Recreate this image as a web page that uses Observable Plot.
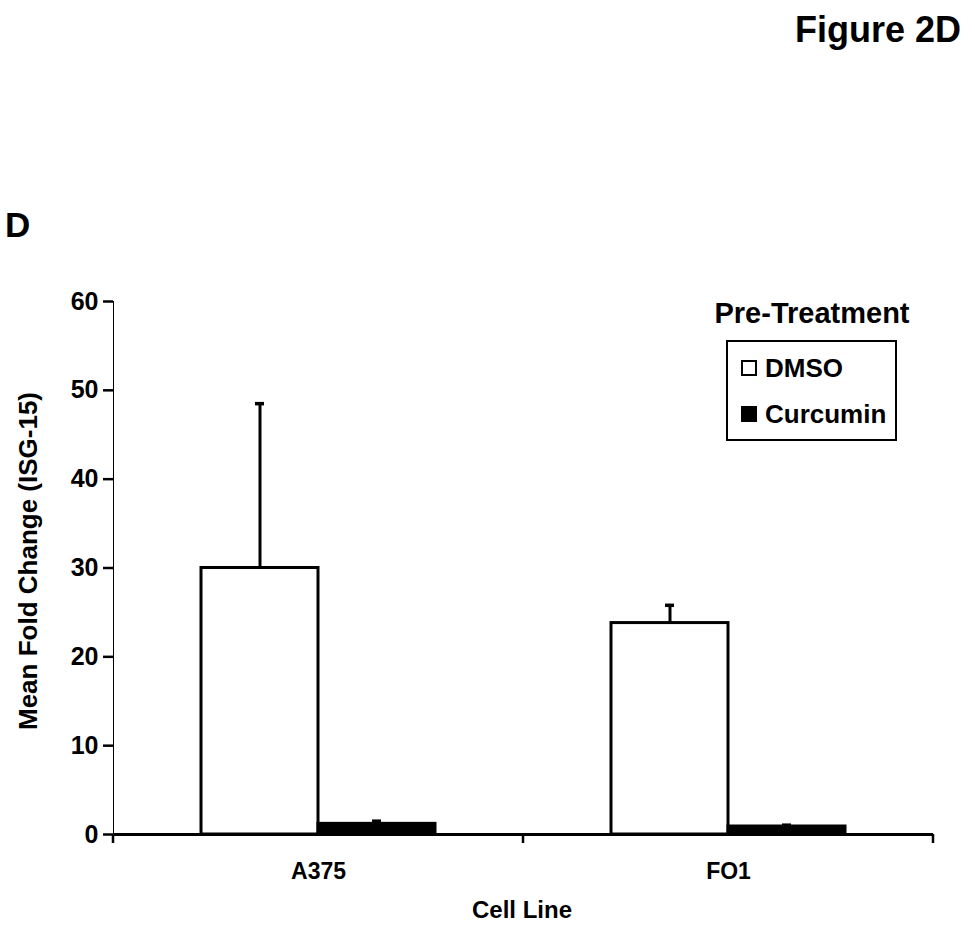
<!DOCTYPE html>
<html>
<head>
<meta charset="utf-8">
<script src="https://cdn.jsdelivr.net/npm/d3@7"></script>
<script src="https://cdn.jsdelivr.net/npm/@observablehq/plot@0.6"></script>
<style>
  html, body { margin: 0; padding: 0; background: white; }
  #wrap { position: relative; width: 975px; height: 930px; font-family: "Liberation Sans", Arial, sans-serif; font-weight: bold; color: black; }
  #chart { position: absolute; left: 0; top: 0; }
  .lbl { position: absolute; line-height: 1; white-space: nowrap; }
  #fig { right: 14px; top: 12px; font-size: 36px; }
  #panel { left: 5px; top: 207px; font-size: 35px; }
  #ytitle { left: 28px; top: 561px; font-size: 26px; transform: translate(-50%, -50%) rotate(-90deg); }
  #xtitle { left: 522px; top: 910px; font-size: 24px; transform: translate(-50%, -50%); }
  #legtitle { left: 812px; top: 313px; font-size: 29px; transform: translate(-50%, -50%); }
  #legbox { position: absolute; left: 726px; top: 340px; width: 167px; height: 97px; border: 2px solid black; }
  .item { position: absolute; left: 13px; display: flex; align-items: center; font-size: 26px; line-height: 1; }
  .sw { width: 12px; height: 12px; border: 2px solid black; margin-right: 8px; }
  svg g[aria-label^="y-axis"] { stroke-width: 2.5px; }
  svg g[aria-label="y-axis tick label"] { font-size: 25px; }
  svg g[aria-label="fx-axis tick label"] { font-size: 23px; }
</style>
</head>
<body>
<div id="wrap">
  <div id="chart"></div>
  <div class="lbl" id="fig"></div>
  <div class="lbl" id="panel"></div>
  <div class="lbl" id="ytitle"></div>
  <div class="lbl" id="xtitle"></div>
  <div class="lbl" id="legtitle"></div>
  <div id="legbox"></div>
</div>
<script>
// ---- data ----
const cellLines = ["A375", "FO1"];
const treatments = ["DMSO", "Curcumin"];
const meanDMSO = [30.0, 23.8];
const meanCurcumin = [1.2, 0.9];
const upperDMSO = [48.5, 25.8];
const upperCurcumin = [1.5, 1.05];
const yTicks = [0, 10, 20, 30, 40, 50, 60];
const treatmentColors = ["white", "black"];
const figureTitle = "Figure 2D";
const panelLabel = "D";
const yTitle = "Mean Fold Change (ISG-15)";
const xTitle = "Cell Line";
const legendTitle = "Pre-Treatment";

const rows = [];
cellLines.forEach((c, i) => {
  rows.push({cell: c, treatment: treatments[0], mean: meanDMSO[i], upper: upperDMSO[i]});
  rows.push({cell: c, treatment: treatments[1], mean: meanCurcumin[i], upper: upperCurcumin[i]});
});

const chart = Plot.plot({
  width: 975,
  height: 930,
  marginLeft: 113,
  marginRight: 42,
  marginTop: 301,
  marginBottom: 96,
  style: {fontFamily: "'Liberation Sans', Arial, sans-serif", fontSize: "21px", fontWeight: "bold", color: "black", background: "white", overflow: "visible"},
  fx: {domain: cellLines, padding: 0, label: null, axis: "bottom", tickSize: 0, tickPadding: 28},
  x: {domain: treatments, paddingInner: 0, paddingOuter: 0.745, axis: null},
  y: {domain: [0, 60], ticks: yTicks, tickSize: 10, tickPadding: 5, label: null, line: true},
  color: {domain: treatments, range: treatmentColors},
  marks: [
    Plot.barY(rows, {fx: "cell", x: "treatment", y: "mean", fill: "treatment", stroke: "black", strokeWidth: 3}),
    Plot.ruleX(rows, {fx: "cell", x: "treatment", y1: "mean", y2: "upper", stroke: "black", strokeWidth: 3}),
    Plot.tickY(rows, {fx: "cell", x: "treatment", y: "upper", insetLeft: 54, insetRight: 54, stroke: "black", strokeWidth: 3.5}),
    Plot.ruleY([0], {stroke: "black", strokeWidth: 3})
  ]
});
document.getElementById("chart").appendChild(chart);

// boundary ticks below the category axis, positioned by the fx and y scales
const fxs = chart.scale("fx");
const ys = chart.scale("y");
const y0 = ys.apply(0);
const edges = cellLines.map(c => fxs.apply(c));
edges.push(fxs.apply(cellLines[cellLines.length - 1]) + fxs.bandwidth);
const svg = d3.select(chart);
svg.append("g").attr("aria-label", "category boundaries")
  .selectAll("line").data(edges).join("line")
  .attr("x1", d => d).attr("x2", d => d)
  .attr("y1", y0).attr("y2", y0 + 9)
  .attr("stroke", "black").attr("stroke-width", 2.5);

// texts
document.getElementById("fig").textContent = figureTitle;
document.getElementById("panel").textContent = panelLabel;
document.getElementById("ytitle").textContent = yTitle;
document.getElementById("xtitle").textContent = xTitle;
document.getElementById("legtitle").textContent = legendTitle;

// legend
const box = document.getElementById("legbox");
treatments.forEach((t, i) => {
  const it = document.createElement("div");
  it.className = "item";
  it.style.top = (i === 0 ? 13 : 59) + "px";
  const sw = document.createElement("div");
  sw.className = "sw";
  sw.style.background = treatmentColors[i];
  const tx = document.createElement("span");
  tx.textContent = t;
  it.appendChild(sw);
  it.appendChild(tx);
  box.appendChild(it);
});
</script>
</body>
</html>
